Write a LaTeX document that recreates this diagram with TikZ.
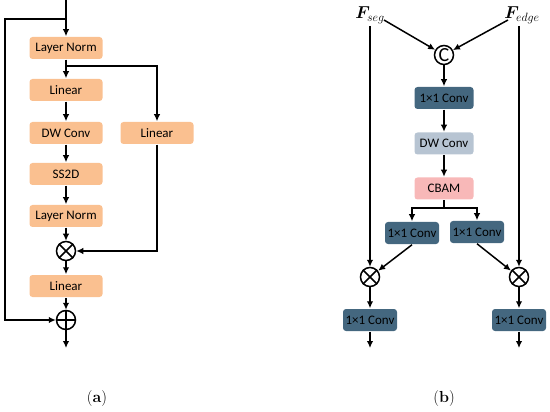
\documentclass[tikz,border=0pt]{standalone}
\usepackage{fontspec}
\usepackage{amsmath,bm}
\newfontfamily\boxfont{Carlito}
\usetikzlibrary{arrows.meta,calc}
\definecolor{orng}{HTML}{FAC090}
\definecolor{dblue}{HTML}{44677F}
\definecolor{lblue}{HTML}{B7C4D2}
\definecolor{pinkc}{HTML}{F8B8B8}
\begin{document}
\begin{tikzpicture}[x=1pt,y=-1pt,
  line width=1.5pt,
  >={Latex[length=7pt,width=6.5pt]},
  box/.style={rounded corners=3pt, minimum height=22pt, inner sep=0pt, font=\boxfont\fontsize{13}{14}\selectfont, draw=none},
  obox/.style={box, fill=orng, minimum width=73pt},
  dbox/.style={box, fill=dblue, minimum width=54pt},
  lbox/.style={box, fill=lblue, minimum width=59pt},
  pbox/.style={box, fill=pinkc, minimum width=59pt},
  op/.style={circle, draw, line width=1.5pt, minimum size=19pt, inner sep=0pt},
  lab/.style={font=\fontsize{16}{18}\selectfont}]
\useasboundingbox (0,0) rectangle (550,412);
% ---- panel (a)
\coordinate (atop) at (66,0);
\coordinate (asplit) at (66,19);
\node[obox] (ln1) at (66,48) {Layer Norm};
\node[obox] (lin1) at (66,90) {Linear};
\node[obox] (dw) at (66,133) {DW Conv};
\node[obox] (ss) at (66,174) {SS2D};
\node[obox] (lin2) at (157,133) {Linear};
\node[obox] (ln2) at (66,216) {Layer Norm};
\node[op] (mul) at (66,251) {};
\draw (mul.north west) -- (mul.south east) (mul.north east) -- (mul.south west);
\node[obox] (lin3) at (66,286) {Linear};
\node[op] (add) at (66,320) {};
\draw (add.north) -- (add.south) (add.west) -- (add.east);
\coordinate (aout) at (66,348);
\coordinate (bsplit) at (66,66);
\draw[->] (atop) -- (ln1);
\draw[->] (asplit) -| (5,320) -- (add);
\draw[->] (ln1) -- (lin1);
\draw[->] (bsplit) -| (lin2);
\draw[->] (lin1) -- (dw);
\draw[->] (dw) -- (ss);
\draw[->] (ss) -- (ln2);
\draw[->] (ln2) -- (mul);
\draw[->] (lin2) |- (mul);
\draw[->] (mul) -- (lin3);
\draw[->] (lin3) -- (add);
\draw[->] (add) -- (aout);
\node[lab] (la) at (97,399) {(\textbf{a})};
% ---- panel (b)
\node[inner sep=0.5pt, font=\fontsize{17}{18}\selectfont] (fseg) at (370,15) {$\bm{F}_{seg}$};
\node[inner sep=0.5pt, font=\fontsize{17}{18}\selectfont] (fedge) at (522,15) {$\bm{F}_{edge}$};
\node[op, font=\boxfont\fontsize{20}{20}\selectfont] (cat) at (444,55) {C};
\node[dbox, minimum width=59pt] (c1) at (444,98) {1×1 Conv};
\node[lbox] (dw2) at (444,143.5) {DW Conv};
\node[pbox] (cbam) at (444,188.5) {CBAM};
\coordinate (cb) at (444,208);
\node[dbox] (cl) at (412,233) {1×1 Conv};
\node[dbox] (cr) at (477,232) {1×1 Conv};
\node[op] (ml) at (370,277) {};
\draw (ml.north west) -- (ml.south east) (ml.north east) -- (ml.south west);
\node[op] (mr) at (519,277) {};
\draw (mr.north west) -- (mr.south east) (mr.north east) -- (mr.south west);
\node[dbox] (ol) at (370,320) {1×1 Conv};
\node[dbox] (or) at (519,320) {1×1 Conv};
\coordinate (ool) at (370,348);
\coordinate (oor) at (519,348);
\coordinate (sl) at (384,20);
\coordinate (sr) at (508,20);
\coordinate (vl) at (370,26);
\coordinate (vr) at (519,26);
\draw[->] (sl) -- (cat);
\draw[->] (sr) -- (cat);
\draw[->] (cat) -- (c1);
\draw[->] (c1) -- (dw2);
\draw[->] (dw2) -- (cbam);
\draw (cbam) -- (cb);
\draw[->] (cb) -| (cl);
\draw[->] (cb) -| (cr);
\draw[->] (vl) -- (ml);
\draw[->] (vr) -- (mr);
\draw[->] (cl.south) -- (ml);
\draw[->] (cr.south) -- (mr);
\draw[->] (ml) -- (ol);
\draw[->] (mr) -- (or);
\draw[->] (ol) -- (ool);
\draw[->] (or) -- (oor);
\node[lab] (lb) at (444,399) {(\textbf{b})};
\end{tikzpicture}
\end{document}
